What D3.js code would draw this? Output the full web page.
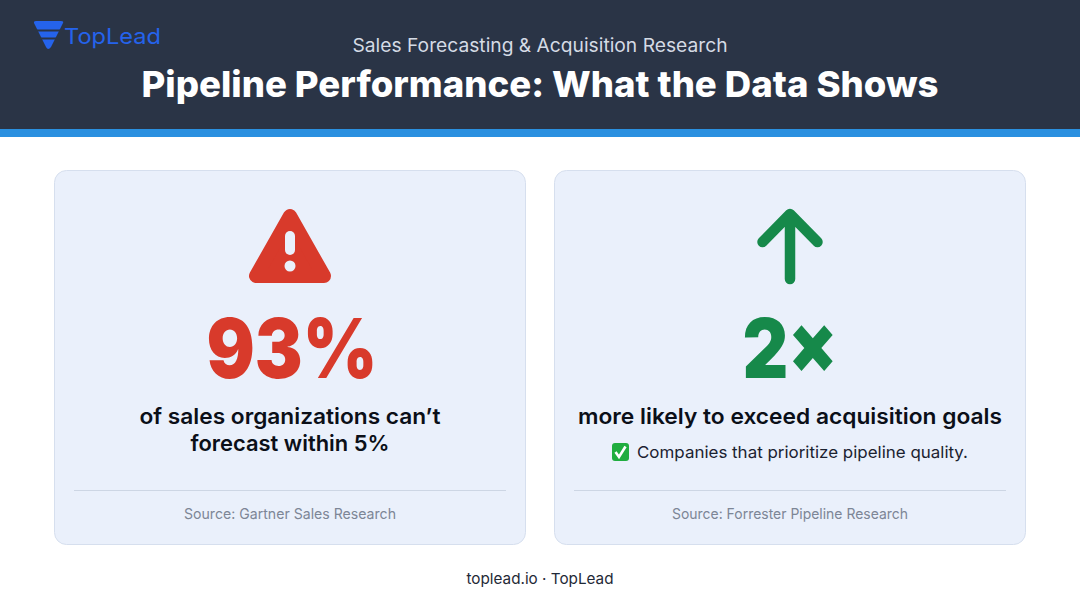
<!DOCTYPE html>
<html>
<head>
<meta charset="utf-8">
<style>
  html, body { margin: 0; padding: 0; background: #fff; }
  svg { display: block; }
  text { font-family: Inter, "Noto Sans", sans-serif; }
</style>
<script src="https://cdn.jsdelivr.net/npm/d3@7"></script>
</head>
<body>
<svg id="chart"></svg>
<script>
const kicker = 'Sales Forecasting & Acquisition Research';
const title = 'Pipeline Performance: What the Data Shows';
const brand = 'TopLead';
const footer = 'toplead.io · TopLead';

const cards = ['forecast', 'acquisition'];
const statValues = ['93%', '2×'];
const statColors = ['#d83a2b', '#16894a'];
const captions = [
  ['of sales organizations can’t', 'forecast within 5%'],
  ['more likely to exceed acquisition goals']
];
const notes = [null, 'Companies that prioritize pipeline quality.'];
const sources = ['Source: Gartner Sales Research', 'Source: Forrester Pipeline Research'];

const width = 1080, height = 603;
const svg = d3.select('#chart').attr('width', width).attr('height', height);

// text helper, width forced so the substitute font lines up with the original
function label(g, str, x, y, size, weight, color, len, anchor) {
  const t = g.append('text')
    .attr('x', x).attr('y', y)
    .attr('text-anchor', anchor || 'middle')
    .attr('font-size', size).attr('font-weight', weight)
    .attr('fill', color)
    .text(str);
  if (len) t.attr('textLength', len).attr('lengthAdjust', 'spacingAndGlyphs');
  return t;
}

// header
svg.append('rect').attr('width', width).attr('height', 129).attr('fill', '#2a3446');
svg.append('rect').attr('y', 129).attr('width', width).attr('height', 8).attr('fill', '#2a90e0');
label(svg, kicker, 540, 52, 18.5, 400, '#d5dbe5', 375);
label(svg, title, 540, 97, 36, 800, '#ffffff', 797);

// logo
const logo = svg.append('g');
logo.append('path')
  .attr('d', 'M34,23 Q33.5,21 36,21 L61,21 Q64,21 63,23 L51,47 Q48,51 46,47 Z')
  .attr('fill', '#2563eb');
[29.5, 37.5].forEach(y => logo.append('rect')
  .attr('x', 34).attr('y', y).attr('width', 30).attr('height', 2).attr('fill', '#2a3446'));
label(logo, brand, 64, 44, 22, 400, '#2563eb', 97, 'start');

// cards
const x = d3.scaleBand().domain(cards).range([54, 1026]).paddingInner(0.056);

const card = svg.selectAll('.card').data(cards).enter().append('g')
  .attr('class', 'card')
  .attr('transform', d => 'translate(' + x(d) + ',170)');

const cardW = x.bandwidth(), mid = cardW / 2;

card.append('rect')
  .attr('x', 0.5).attr('y', 0.5)
  .attr('width', cardW - 1).attr('height', 374)
  .attr('rx', 12)
  .attr('fill', '#eaf0fb')
  .attr('stroke', '#d6dfee');

card.append('line')
  .attr('x1', 20).attr('x2', cardW - 20)
  .attr('y1', 320.5).attr('y2', 320.5)
  .attr('stroke', '#cdd6e4').attr('stroke-width', 1.2);

card.append('text')
  .attr('x', mid).attr('y', 349)
  .attr('text-anchor', 'middle')
  .attr('font-size', 14.5)
  .attr('fill', '#7d8696')
  .attr('textLength', (d, i) => [212, 236][i])
  .attr('lengthAdjust', 'spacingAndGlyphs')
  .text((d, i) => sources[i]);

card.append('text')
  .attr('x', (d, i) => mid + [2, 0][i]).attr('y', 208)
  .attr('text-anchor', 'middle')
  .attr('font-size', 82)
  .attr('font-weight', 900)
  .attr('fill', (d, i) => statColors[i])
  .attr('textLength', (d, i) => [171, 95][i])
  .attr('lengthAdjust', 'spacingAndGlyphs')
  .text((d, i) => statValues[i]);

// captions
const captionLen = [[301, 199], [424]];
card.each(function (d, i) {
  const g = d3.select(this);
  captions[i].forEach((line, j) => {
    label(g, line, mid, 254 + j * 27, 22, 600, '#0b0f18', captionLen[i][j]);
  });
});

// warning icon
const warn = d3.select(card.nodes()[0]);
warn.append('path')
  .attr('d', 'M236,46 L202,106 H270 Z')
  .attr('fill', statColors[0])
  .attr('stroke', statColors[0])
  .attr('stroke-width', 14)
  .attr('stroke-linejoin', 'round');
warn.append('rect')
  .attr('x', 231).attr('y', 61).attr('width', 10).attr('height', 24).attr('rx', 5)
  .attr('fill', '#eaf0fb');
warn.append('circle').attr('cx', 236).attr('cy', 96).attr('r', 5.5).attr('fill', '#eaf0fb');

// arrow icon
const up = d3.select(card.nodes()[1]);
up.append('path')
  .attr('d', 'M236,109 V44 M208.5,72 L236,44 L263.5,72')
  .attr('fill', 'none')
  .attr('stroke', statColors[1])
  .attr('stroke-width', 10.5)
  .attr('stroke-linecap', 'round')
  .attr('stroke-linejoin', 'round');

// note with check badge
label(up, notes[1], 83, 288, 16.5, 400, '#1b2230', 331, 'start');
up.append('rect')
  .attr('x', 58).attr('y', 273).attr('width', 17).attr('height', 18).attr('rx', 3)
  .attr('fill', '#20ad3f');
up.append('path')
  .attr('d', 'M61.5,282 L65,287 L71.5,276.5')
  .attr('fill', 'none').attr('stroke', '#fff').attr('stroke-width', 2.6);

// footer
label(svg, footer, 540, 584, 15, 400, '#1f2937', 147);
</script>
</body>
</html>
